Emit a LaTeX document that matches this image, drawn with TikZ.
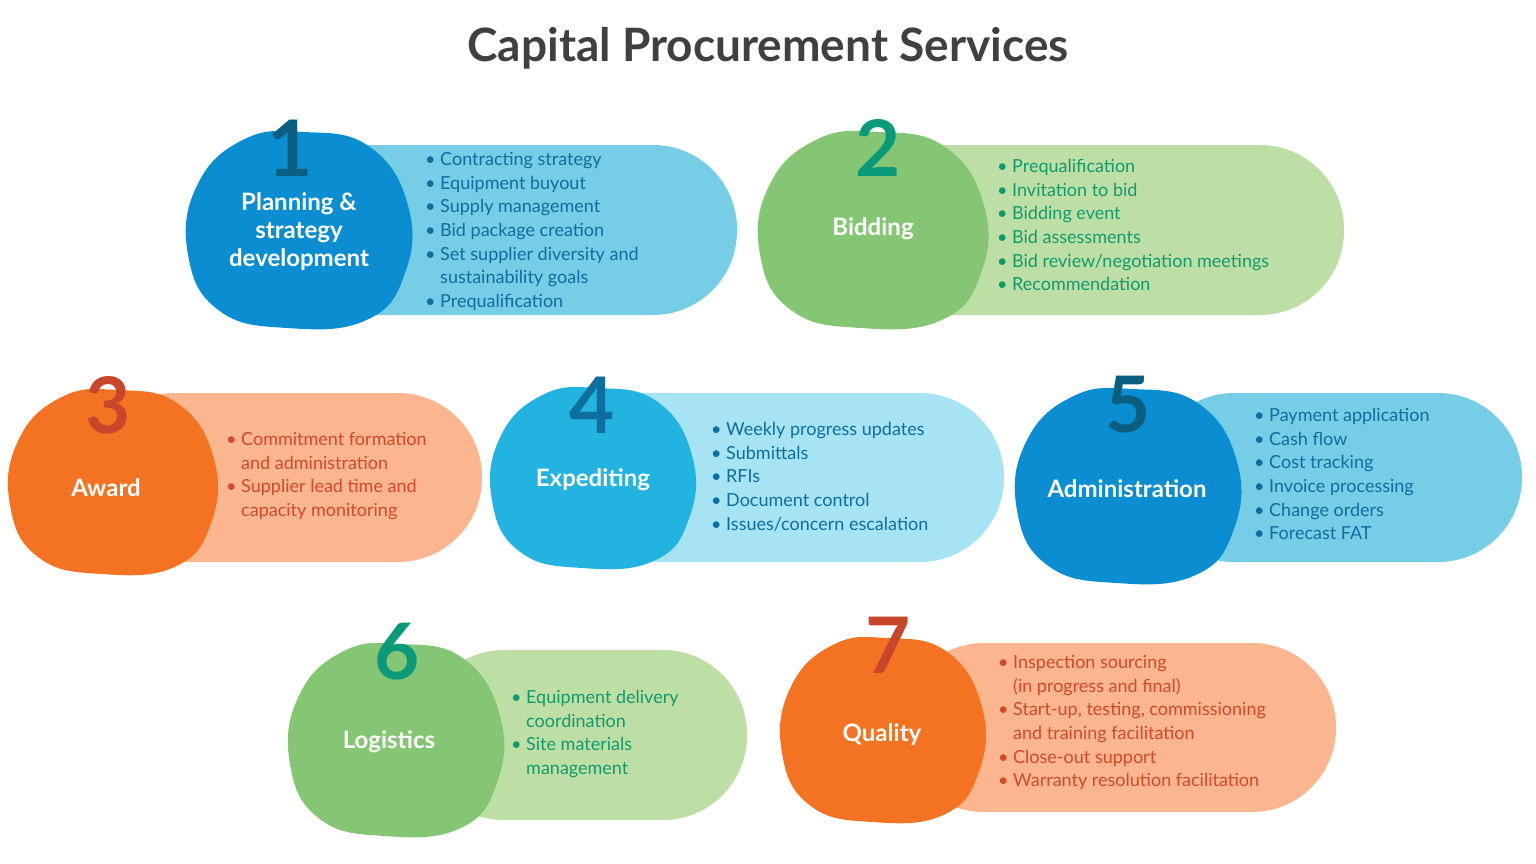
\documentclass[tikz,border=0pt]{standalone}
\usepackage{fontspec}
\setmainfont{Lato}
\definecolor{dblue}{HTML}{0B8ED1}
\definecolor{lblue}{HTML}{75CDE6}
\definecolor{cblue}{HTML}{22B3E0}
\definecolor{pblue}{HTML}{A6E3F3}
\definecolor{tblue}{HTML}{0E6E9E}
\definecolor{nblue}{HTML}{0A5F80}
\definecolor{dgreen}{HTML}{84C673}
\definecolor{lgreen}{HTML}{BDDFA6}
\definecolor{teal}{HTML}{0A9A7A}
\definecolor{tgreen}{HTML}{129A6C}
\definecolor{dorange}{HTML}{F47322}
\definecolor{lorange}{HTML}{FBB68F}
\definecolor{nred}{HTML}{C8462A}
\definecolor{tred}{HTML}{D24A2A}
\newcommand\bl{\makebox[15pt][l]{•}}
\newcommand\ind{\hspace*{15pt}}
\newcommand\myblob[5]{\fill[#5,shift={(#1,#2)},xscale=#3,yscale=#4] plot[smooth cycle,tension=0.75] coordinates {(0.05,-1)(0.65,-0.85)(1,-0.25)(0.97,0.45)(0.62,0.92)(-0.1,1)(-0.72,0.82)(-1,0.25)(-0.92,-0.45)(-0.5,-0.92)};}
\tikzset{
 pill/.style={rounded corners=84pt},
 ttl/.style={text=white,font=\bfseries\fontsize{24}{28}\selectfont,align=center},
 num/.style={font=\fontsize{78}{80}\selectfont\bfseries,inner sep=0},
 lst/.style={anchor=north west,inner sep=0,align=left,font=\fontsize{18}{23.7}\selectfont}
}
\begin{document}
\begin{tikzpicture}[x=1pt,y=-1pt]
\useasboundingbox (0,0) rectangle (1536,864);
\node[font=\fontsize{46}{50}\selectfont\bfseries,text=black!75] (t) at (768,48) {Capital Procurement Services};
% 1
\fill[lblue,pill] (280,145) rectangle (737,315);
\myblob{298}{230}{110}{98}{dblue}
\node[num,text=nblue] (n1) at (290,148) {1};
\node[ttl] (h1) at (299,232) {Planning \&\\strategy\\development};
\node[lst,text=tblue] (l1) at (425,152) {\bl Contracting strategy\\\bl Equipment buyout\\\bl Supply management\\\bl Bid package creation\\\bl Set supplier diversity and\\\ind sustainability goals\\\bl Prequalification};
% 2
\fill[lgreen,pill] (860,145) rectangle (1344,315);
\myblob{872}{230}{112}{98}{dgreen}
\node[num,text=teal] (n2) at (878,148) {2};
\node[ttl] (h2) at (873,229) {Bidding};
\node[lst,text=tgreen] (l2) at (997,159) {\bl Prequalification\\\bl Invitation to bid\\\bl Bidding event\\\bl Bid assessments\\\bl Bid review/negotiation meetings\\\bl Recommendation};
% 3
\fill[lorange,pill] (90,393) rectangle (482,562);
\myblob{112}{482}{102}{92}{dorange}
\node[num,text=nred] (n3) at (108,405) {3};
\node[ttl] (h3) at (106,488) {Award};
\node[lst,text=tred] (l3) at (226,432) {\bl Commitment formation\\\ind and administration\\\bl Supplier lead time and\\\ind capacity monitoring};
% 4
\fill[pblue,pill] (560,393) rectangle (1004,562);
\myblob{592}{478}{100}{90}{cblue}
\node[num,text=tblue] (n4) at (592,405) {4};
\node[ttl] (h4) at (593,480) {Expediting};
\node[lst,text=tblue] (l4) at (711,422) {\bl Weekly progress updates\\\bl Submittals\\\bl RFIs\\\bl Document control\\\bl Issues/concern escalation};
% 5
\fill[lblue,pill] (1150,393) rectangle (1522,562);
\myblob{1127}{486}{110}{97}{dblue}
\node[num,text=nblue] (n5) at (1128,405) {5};
\node[ttl] (h5) at (1127,489) {Administration};
\node[lst,text=tblue] (l5) at (1254,408) {\bl Payment application\\\bl Cash flow\\\bl Cost tracking\\\bl Invoice processing\\\bl Change orders\\\bl Forecast FAT};
% 6
\fill[lgreen,pill] (420,650) rectangle (747,820);
\myblob{395}{740}{105}{96}{dgreen}
\node[num,text=teal] (n6) at (397,652) {6};
\node[ttl] (h6) at (389,742) {Logistics};
\node[lst,text=tgreen] (l6) at (511,690) {\bl Equipment delivery\\\ind coordination\\\bl Site materials\\\ind management};
% 7
\fill[lorange,pill] (900,643) rectangle (1336,812);
\myblob{882}{730}{100}{92}{dorange}
\node[num,text=nred] (n7) at (888,645) {7};
\node[ttl] (h7) at (882,735) {Quality};
\node[lst,text=tred] (l7) at (998,655) {\bl Inspection sourcing\\\ind (in progress and final)\\\bl Start-up, testing, commissioning\\\ind and training facilitation\\\bl Close-out support\\\bl Warranty resolution facilitation};
\end{tikzpicture}
\end{document}
